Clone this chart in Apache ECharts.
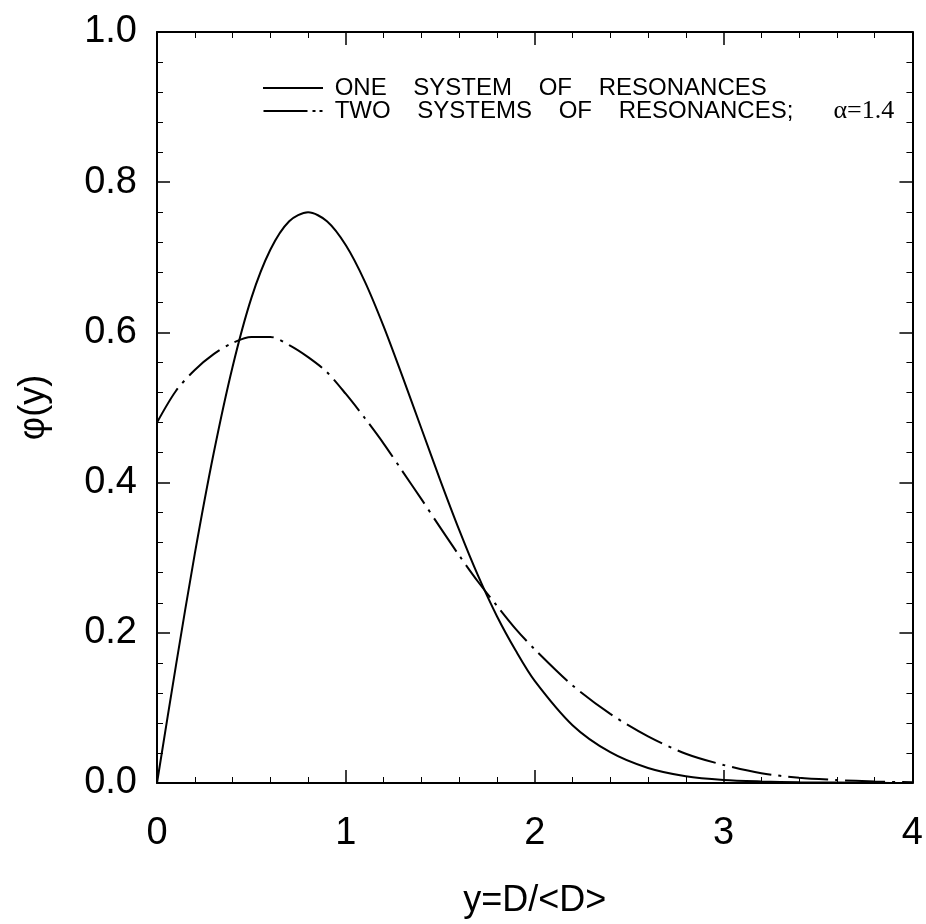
<!DOCTYPE html>
<html>
<head>
<meta charset="utf-8">
<script src="https://cdn.jsdelivr.net/npm/echarts@6/dist/echarts.min.js"></script>
<style>html,body{margin:0;padding:0;background:#fff;}#c{width:926px;height:924px;}</style>
</head>
<body>
<div id="c"></div>
<script>
var xTicks = [0, 1, 2, 3, 4];
var yTicks = [0.0, 0.2, 0.4, 0.6, 0.8, 1.0];
var xValues = [0, 0.1, 0.2, 0.3, 0.4, 0.5, 0.6, 0.7, 0.8, 0.9, 1.0, 1.1, 1.2, 1.3, 1.4, 1.5, 1.6, 1.7, 1.8, 1.9, 2.0, 2.2, 2.4, 2.6, 2.8, 3.0, 3.2, 3.4, 3.6, 3.8, 4.0];
var oneSystem = [0, 0.156, 0.305, 0.439, 0.554, 0.646, 0.710, 0.748, 0.760, 0.748, 0.716, 0.668, 0.608, 0.541, 0.472, 0.403, 0.337, 0.276, 0.222, 0.176, 0.136, 0.077, 0.041, 0.020, 0.009, 0.004, 0.002, 0.001, 0.0005, 0.0002, 0.0001];
var twoSystems = [0.480, 0.522, 0.550, 0.571, 0.586, 0.594, 0.594, 0.583, 0.567, 0.547, 0.518, 0.486, 0.452, 0.415, 0.378, 0.340, 0.303, 0.268, 0.236, 0.205, 0.178, 0.130, 0.092, 0.062, 0.039, 0.024, 0.013, 0.007, 0.004, 0.002, 0.001];
var names = ['ONE SYSTEM OF RESONANCES', 'TWO SYSTEMS OF RESONANCES;'];
var alphaLabel = 'α=1.4';

function pairs(ys){ return xValues.map(function(x,i){ return [x, ys[i]]; }); }
function common(){
  return {
    axisLine:{show:true, onZero:false, lineStyle:{color:'#000', width:2}},
    axisTick:{show:true, inside:true, length:13, lineStyle:{color:'#000', width:1.5}},
    minorTick:{show:true, splitNumber:5, length:6, lineStyle:{color:'#000', width:1}},
    splitLine:{show:false}
  };
}
function ext(a, b){ for (var k in b) a[k] = b[k]; return a; }
function spaced(s, n){ return s.split(' ').join(new Array(n + 1).join(' ')); }

var chart = echarts.init(document.getElementById('c'));
var font = 'Liberation Sans, Arial, sans-serif';
var option = {
  backgroundColor:'#fff',
  animation:false,
  grid:{left:157, right:10, top:32, bottom:140},
  legend:{
    show:true, orient:'vertical', left:258, top:71, itemWidth:60, itemHeight:2, itemGap:-2,
    data:[
      {name:names[0], icon:'path://M0,0H60V2H0Z'},
      {name:names[1], icon:'path://M0,0H44V2H0Z M49,0H52V2H49Z M56,0H59V2H56Z'}
    ],
    textStyle:{fontFamily:font, fontSize:24, lineHeight:22, color:'#000',
      rich:{a:{fontFamily:'Liberation Serif, Times New Roman, serif', fontSize:26, lineHeight:22, color:'#000'}}},
    formatter:function(n){
      if(n===names[0]) return ' ' + spaced(n, 4);
      return ' ' + spaced(n, 4) + '      {a|' + alphaLabel + '}';
    }
  },
  xAxis:[
    ext(common(), {type:'value', min:0, max:4, interval:1, position:'bottom', gridIndex:0,
      name:'y=D/<D>', nameLocation:'middle', nameGap:100,
      nameTextStyle:{fontFamily:font, fontSize:36, color:'#000'},
      axisLabel:{show:true, margin:32, fontFamily:font, fontSize:38, color:'#000',
        formatter:function(v){ return xTicks.indexOf(v)>=0 ? String(v) : ''; }}}),
    ext(common(), {type:'value', min:0, max:4, interval:1, position:'top', gridIndex:0, axisLabel:{show:false}})
  ],
  yAxis:[
    ext(common(), {type:'value', min:0, max:1, interval:0.2, position:'left', gridIndex:0,
      name:'φ(y)', nameLocation:'middle', nameGap:105, nameRotate:90,
      nameTextStyle:{fontFamily:font, fontSize:36, color:'#000'},
      axisLabel:{show:true, margin:20, fontFamily:font, fontSize:38, color:'#000',
        formatter:function(v){ return v.toFixed(1); }}}),
    ext(common(), {type:'value', min:0, max:1, interval:0.2, position:'right', gridIndex:0, axisLabel:{show:false}})
  ],
  series:[
    {name:names[0], type:'line', xAxisIndex:0, yAxisIndex:0, data:pairs(oneSystem), smooth:0.3,
      symbol:'none', showSymbol:false,
      lineStyle:{color:'#000', width:2, type:'solid'}, itemStyle:{color:'#000'}},
    {name:names[1], type:'line', xAxisIndex:0, yAxisIndex:0, data:pairs(twoSystems), smooth:0.3,
      symbol:'none', showSymbol:false,
      lineStyle:{color:'#000', width:2, type:[40,7,3,7]}, itemStyle:{color:'#000'}}
  ]
};
chart.setOption(option);
</script>
</body>
</html>
